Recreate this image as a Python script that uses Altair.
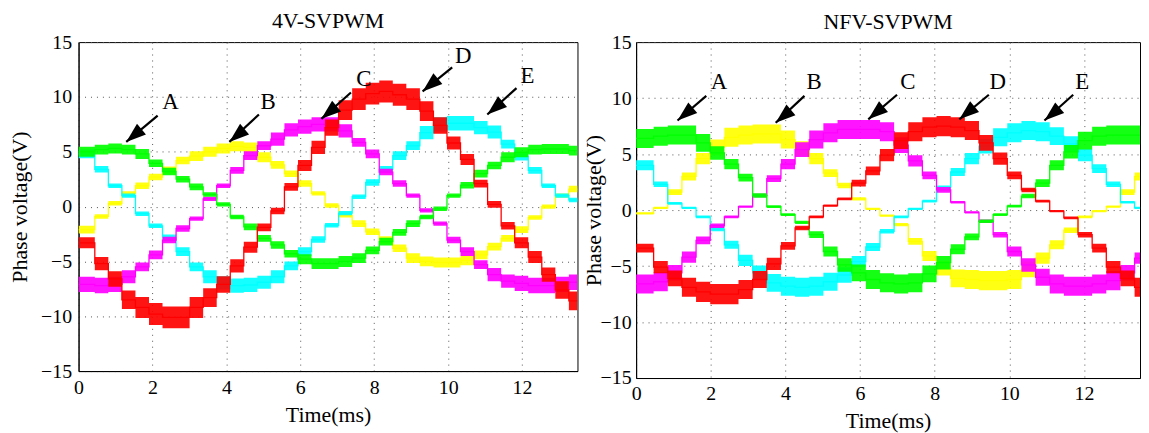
import altair as alt
import pandas as pd

FONT = "Liberation Serif"
T_MAX = 13.5
X_TICKS = [0, 2, 4, 6, 8, 10, 12]
Y_TICKS = [-15, -10, -5, 0, 5, 10, 15]
COLORS = {"yellow": "#ffff00", "cyan": "#00ffff", "magenta": "#ff00ff",
          "green": "#00ff00", "red": "#ff0000"}
ORDER = ["yellow", "cyan", "magenta", "green", "red"]

# ---------------- 4V-SVPWM (left): staircase level per switching step (V)
L_STEP, L_OFF = 0.3665, 0.073
L_green = [5.0, 5.2, 5.3, 5.2, 4.8, 3.95, 3.2, 2.5, 1.8, 1.1, 0.2, -0.95, -1.85, -2.9, -3.5, -4.3,
           -4.8, -5.2, -5.2, -5.0, -4.7, -4.0, -3.2, -2.35, -1.55, -0.95, -0.2, 1.0, 1.95, 3.0, 3.75, 4.5,
           4.95, 5.2, 5.25, 5.25, 5.1]
L_yellow = [-2.1, -0.9, 0.3, 1.2, 1.9, 2.7, 3.3, 4.2, 4.6, 5.0, 5.3, 5.5, 5.4, 4.5, 3.8, 3.0,
            2.1, 1.2, 0.1, -0.8, -1.55, -2.3, -3.05, -3.8, -4.7, -5.0, -5.1, -5.1, -4.9, -4.4, -3.65, -2.9,
            -2.1, -1.0, 0.0, 1.0, 1.6]
L_cyan = [4.8, 3.4, 1.9, 1.0, -0.65, -1.75, -2.85, -4.1, -5.5, -6.4, -6.95, -7.2, -7.15, -6.9, -6.4, -5.4,
          -4.1, -3.0, -1.7, -0.6, 0.9, 2.2, 3.4, 4.65, 5.55, 6.75, 7.5, 7.6, 7.6, 7.2, 6.8, 5.7,
          4.6, 3.3, 1.9, 1.0, 0.6]
L_magenta = [-7.1, -7.2, -7.1, -6.4, -5.5, -4.4, -3.05, -2.0, -1.1, 0.7, 1.9, 3.3, 4.65, 5.55, 6.15, 7.0,
             7.3, 7.5, 7.5, 6.9, 5.85, 4.8, 3.15, 2.1, 1.0, -0.35, -1.55, -3.05, -4.1, -5.3, -6.2, -6.8,
             -7.0, -7.2, -7.2, -7.1, -6.9]
L_red = [-3.3, -5.2, -6.6, -8.5, -9.2, -9.8, -10.1, -10.1, -9.2, -8.3, -7.1, -5.4, -3.7, -1.9, -0.4, 1.8,
         3.75, 5.4, 7.2, 8.8, 9.8, 10.3, 10.5, 10.2, 9.8, 8.7, 7.4, 5.8, 4.3, 2.1, 0.2, -1.75,
         -3.3, -4.6, -6.2, -7.6, -8.6]
# PWM ripple half-height per step (V)
L_green_rip = [0.45, 0.45, 0.45, 0.45, 0.45, 0.35, 0.35, 0.3, 0.3, 0.2, 0.2, 0.2, 0.3, 0.3, 0.35, 0.35,
               0.45, 0.5, 0.5, 0.5, 0.45, 0.35, 0.35, 0.3, 0.3, 0.2, 0.2, 0.2, 0.3, 0.35, 0.35, 0.45,
               0.45, 0.45, 0.45, 0.45, 0.45]
L_yellow_rip = [0.35, 0.2, 0.2, 0.2, 0.3, 0.3, 0.35, 0.35, 0.45, 0.45, 0.45, 0.45, 0.45, 0.45, 0.35, 0.3,
                0.3, 0.2, 0.2, 0.2, 0.3, 0.3, 0.35, 0.35, 0.45, 0.45, 0.45, 0.45, 0.45, 0.4, 0.35, 0.3,
                0.3, 0.2, 0.2, 0.2, 0.3]
L_cyan_rip = [0.4, 0.3, 0.2, 0.2, 0.2, 0.2, 0.3, 0.4, 0.4, 0.6, 0.6, 0.65, 0.65, 0.6, 0.6, 0.4,
              0.4, 0.3, 0.2, 0.2, 0.2, 0.3, 0.3, 0.4, 0.4, 0.6, 0.65, 0.65, 0.65, 0.6, 0.6, 0.4,
              0.4, 0.3, 0.2, 0.2, 0.2]
L_magenta_rip = [0.7, 0.7, 0.7, 0.6, 0.4, 0.4, 0.3, 0.3, 0.2, 0.2, 0.2, 0.3, 0.4, 0.4, 0.6, 0.6,
                 0.65, 0.65, 0.65, 0.6, 0.4, 0.4, 0.3, 0.3, 0.2, 0.2, 0.2, 0.3, 0.4, 0.4, 0.6, 0.6,
                 0.7, 0.7, 0.7, 0.7, 0.7]
L_red_rip = [0.5, 0.6, 0.7, 0.85, 0.95, 1.0, 1.0, 1.0, 0.95, 0.85, 0.75, 0.6, 0.5, 0.35, 0.3, 0.35,
             0.5, 0.6, 0.75, 0.9, 1.0, 1.0, 1.0, 1.0, 1.0, 0.9, 0.75, 0.6, 0.5, 0.35, 0.3, 0.35,
             0.5, 0.55, 0.65, 0.8, 0.85]

# ---------------- NFV-SVPWM (right)
R_STEP, R_OFF = 0.379, 0.09
R_green = [6.4, 6.6, 6.7, 6.7, 6.0, 5.1, 4.1, 2.9, 1.3, 0.3, -0.4, -1.1, -2.2, -3.7, -4.9, -5.6,
           -6.2, -6.5, -6.6, -6.5, -5.7, -4.7, -3.5, -2.4, -1.0, -0.4, 0.35, 1.25, 2.4, 4.0, 5.2, 6.2,
           6.6, 6.7, 6.7, 6.7]
R_yellow = [-0.3, 0.2, 1.6, 3.0, 4.6, 5.6, 6.5, 6.7, 6.8, 6.8, 6.3, 5.5, 4.6, 3.3, 2.2, 1.0,
            0.1, -0.5, -1.3, -2.8, -4.1, -5.2, -6.1, -6.2, -6.3, -6.3, -6.2, -5.3, -4.3, -3.1, -1.8, -0.6,
            -0.1, 0.3, 1.6, 3.0]
R_cyan = [4.0, 2.3, 0.6, 0.2, -0.6, -1.7, -3.1, -4.5, -5.6, -6.5, -6.8, -6.9, -6.8, -6.4, -5.8, -4.6,
          -3.3, -1.9, -0.6, 0.1, 0.8, 2.0, 3.4, 4.6, 5.7, 6.5, 6.9, 7.1, 7.0, 6.6, 5.9, 4.9,
          3.7, 2.3, 0.7, 0.2]
R_magenta = [-6.6, -6.4, -5.6, -4.2, -2.7, -1.4, -0.6, 0.3, 1.3, 2.8, 4.1, 5.4, 6.3, 6.9, 7.2, 7.2,
             7.2, 7.0, 5.8, 4.4, 3.1, 1.8, 0.7, -0.2, -1.0, -2.2, -3.7, -4.9, -6.0, -6.6, -6.8, -6.8,
             -6.6, -6.3, -5.6, -4.3]
R_red = [-3.4, -5.1, -6.1, -6.9, -7.3, -7.5, -7.5, -7.1, -6.2, -4.8, -3.2, -1.6, -0.6, 0.4, 1.0, 2.4,
         3.5, 4.9, 6.2, 7.0, 7.4, 7.5, 7.4, 7.1, 6.0, 4.6, 3.1, 1.8, 0.8, -0.1, -0.7, -2.2,
         -3.4, -5.1, -6.1, -6.9]
R_green_rip = [0.85, 0.85, 0.85, 0.85, 0.8, 0.6, 0.45, 0.35, 0.2, 0.12, 0.12, 0.15, 0.3, 0.45, 0.6, 0.75,
               0.85, 0.85, 0.85, 0.85, 0.75, 0.6, 0.45, 0.3, 0.15, 0.12, 0.12, 0.2, 0.35, 0.45, 0.6, 0.8,
               0.85, 0.85, 0.85, 0.85]
R_yellow_rip = [0.1, 0.1, 0.25, 0.35, 0.5, 0.7, 0.85, 0.85, 0.85, 0.85, 0.8, 0.65, 0.5, 0.35, 0.25, 0.15,
                0.1, 0.1, 0.15, 0.3, 0.45, 0.65, 0.8, 0.85, 0.85, 0.85, 0.85, 0.7, 0.5, 0.4, 0.25, 0.12,
                0.1, 0.1, 0.25, 0.35]
R_cyan_rip = [0.45, 0.25, 0.12, 0.1, 0.12, 0.2, 0.35, 0.5, 0.65, 0.8, 0.85, 0.85, 0.85, 0.8, 0.7, 0.5,
              0.35, 0.2, 0.12, 0.1, 0.12, 0.2, 0.35, 0.5, 0.65, 0.8, 0.85, 0.85, 0.85, 0.8, 0.7, 0.55,
              0.4, 0.25, 0.12, 0.1]
R_magenta_rip = [0.85, 0.85, 0.7, 0.5, 0.35, 0.2, 0.12, 0.1, 0.15, 0.3, 0.45, 0.65, 0.8, 0.85, 0.85, 0.85,
                 0.85, 0.85, 0.7, 0.5, 0.35, 0.25, 0.12, 0.1, 0.15, 0.25, 0.45, 0.6, 0.75, 0.85, 0.85, 0.85,
                 0.85, 0.85, 0.7, 0.5]
R_red_rip = [0.4, 0.55, 0.7, 0.85, 0.9, 0.9, 0.9, 0.85, 0.75, 0.55, 0.35, 0.2, 0.12, 0.1, 0.12, 0.3,
             0.4, 0.55, 0.75, 0.85, 0.9, 0.9, 0.9, 0.85, 0.7, 0.55, 0.35, 0.2, 0.12, 0.1, 0.12, 0.25,
             0.4, 0.55, 0.7, 0.85]

# ---------------- arrow annotations (label, label pos, arrow tail, arrow tip)
ARROW_LABELS = ["A", "B", "C", "D", "E"]
L_label_t = [2.49, 5.13, 7.72, 10.41, 12.15]
L_label_v = [9.5, 9.5, 11.6, 13.7, 11.9]
L_tail_t = [2.14, 4.88, 7.37, 10.11, 11.85]
L_tail_v = [8.3, 8.4, 10.4, 12.7, 10.8]
L_tip_t = [1.29, 4.08, 6.57, 9.31, 11.06]
L_tip_v = [5.9, 5.9, 8.0, 10.5, 8.4]

R_label_t = [2.22, 4.77, 7.28, 9.69, 11.95]
R_label_v = [11.4, 11.4, 11.4, 11.4, 11.4]
R_tail_t = [1.88, 4.51, 6.99, 9.45, 11.71]
R_tail_v = [10.2, 10.2, 10.3, 10.3, 10.3]
R_tip_t = [1.11, 3.74, 6.22, 8.66, 10.94]
R_tip_v = [8.0, 7.8, 8.1, 8.1, 8.0]

HEAD = "M0,0L-0.7,2L0.7,2Z"


def step_starts(n, step, off):
    return [0.0] + [off + step * k for k in range(1, n)]


def wave_df(levels, ripple, starts):
    rows = []
    for t, v, r in zip(starts, levels, ripple):
        rows.append({"t": t, "v": v, "lo": v - r, "hi": v + r})
    rows.append({"t": T_MAX, "v": levels[-1], "lo": levels[-1] - ripple[-1], "hi": levels[-1] + ripple[-1]})
    return pd.DataFrame(rows)


def panel(title, levels, ripples, starts, arrows, width, height, ylab_pad, xlab_pad, ytitle_x,
          xtitle_y, title_off):
    xs = alt.Scale(domain=[0, T_MAX], nice=False, zero=False)
    ys = alt.Scale(domain=[-15, 15], nice=False)
    common = dict(grid=True, gridDash=[1, 5], gridColor="#555", gridWidth=1, ticks=False, tickSize=0,
                  labelFlush=False, labelOverlap=False, labelFont=FONT, labelFontSize=20, labelColor="black",
                  titleFont=FONT, titleFontSize=22, titleFontWeight="normal", titleColor="black",
                  domainColor="black", domainWidth=1)
    xaxis = alt.Axis(values=X_TICKS, title="Time(ms)", labelPadding=xlab_pad, titleY=xtitle_y,
                     titleBaseline="alphabetic", **common)
    yaxis = alt.Axis(values=Y_TICKS, title="Phase voltage(V)", labelPadding=ylab_pad, titleX=ytitle_x,
                     **common)
    X = lambda f: alt.X(f, type="quantitative", scale=xs, axis=xaxis)
    Y = lambda f: alt.Y(f, type="quantitative", scale=ys, axis=yaxis)
    layers = []
    for name in ORDER:
        base = alt.Chart(wave_df(levels[name], ripples[name], starts))
        layers.append(base.mark_area(interpolate="step-after", color=COLORS[name], opacity=0.92, clip=True)
                      .encode(x=X("t"), y=Y("lo"), y2="hi"))
        layers.append(base.mark_line(interpolate="step-after", color=COLORS[name], strokeWidth=1.3, clip=True)
                      .encode(x=X("t"), y=Y("v")))
    adf = pd.DataFrame(arrows)
    ab = alt.Chart(adf)
    layers.append(ab.mark_rule(color="black", strokeWidth=2.2)
                  .encode(x=X("tail_t"), y=Y("tail_v"), x2="tip_t", y2="tip_v"))
    layers.append(ab.mark_point(shape=HEAD, size=400, angle=230, filled=True, color="black",
                                opacity=1, strokeWidth=0)
                  .encode(x=X("tip_t"), y=Y("tip_v")))
    layers.append(ab.mark_text(font=FONT, fontSize=23, color="black")
                  .encode(x=X("label_t"), y=Y("label_v"), text="label:N"))
    return alt.layer(*layers).properties(
        width=width, height=height,
        title=alt.TitleParams(title, font=FONT, fontSize=22, fontWeight="normal", color="black",
                              anchor="middle", offset=title_off))


L_starts = step_starts(len(L_green), L_STEP, L_OFF)
R_starts = step_starts(len(R_green), R_STEP, R_OFF)

left = panel("4V-SVPWM",
             {"green": L_green, "yellow": L_yellow, "cyan": L_cyan, "magenta": L_magenta, "red": L_red},
             {"green": L_green_rip, "yellow": L_yellow_rip, "cyan": L_cyan_rip, "magenta": L_magenta_rip,
              "red": L_red_rip},
             L_starts,
             {"label": ARROW_LABELS, "label_t": L_label_t, "label_v": L_label_v, "tail_t": L_tail_t,
              "tail_v": L_tail_v, "tip_t": L_tip_t, "tip_v": L_tip_v},
             502, 331, 7, 7, -47, 51, -1)

right = panel("NFV-SVPWM",
              {"green": R_green, "yellow": R_yellow, "cyan": R_cyan, "magenta": R_magenta, "red": R_red},
              {"green": R_green_rip, "yellow": R_yellow_rip, "cyan": R_cyan_rip, "magenta": R_magenta_rip,
               "red": R_red_rip},
              R_starts,
              {"label": ARROW_LABELS, "label_t": R_label_t, "label_v": R_label_v, "tail_t": R_tail_t,
               "tail_v": R_tail_v, "tip_t": R_tip_t, "tip_v": R_tip_v},
              507, 338, 5, 6, -31, 50, -2)

chart = (alt.hconcat(left, right, spacing=3)
         .properties(padding={"left": 0, "top": 0, "right": 0, "bottom": 0}, background="white")
         .configure_view(stroke="black", strokeWidth=1))

chart.save("out.html", embed_options={"renderer": "svg", "actions": False})
